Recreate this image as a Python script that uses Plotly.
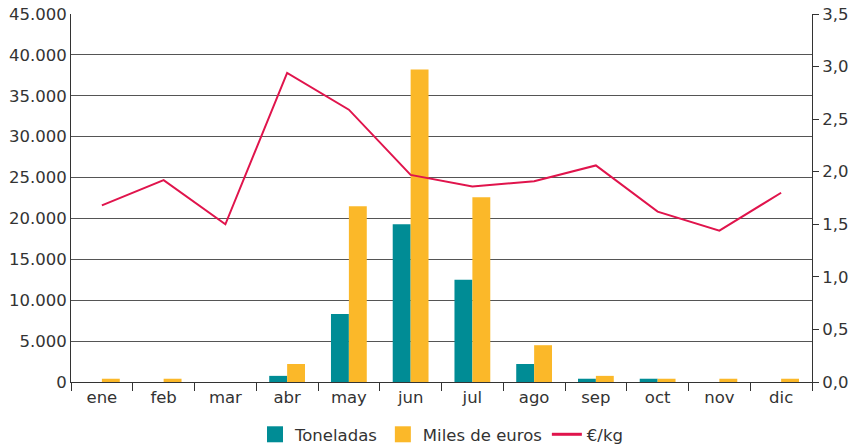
import plotly.graph_objects as go

meses = ["ene", "feb", "mar", "abr", "may", "jun", "jul", "ago", "sep", "oct", "nov", "dic"]
toneladas = [0, 0, 0, 750, 8300, 19300, 12500, 2200, 400, 400, 0, 0]
miles_euros = [400, 400, 0, 2200, 21500, 38200, 22600, 4500, 750, 400, 400, 400]
eur_kg = [1.68, 1.92, 1.50, 2.94, 2.59, 1.97, 1.86, 1.91, 2.06, 1.62, 1.44, 1.80]

TEAL = "#008C95"
YELLOW = "#FBB829"
RED = "#E0144C"
FONT = "DejaVu Sans, Liberation Sans, Arial, sans-serif"

fig = go.Figure()
fig.add_trace(go.Bar(x=meses, y=toneladas, name="Toneladas", marker_color=TEAL, marker_line_width=0,
                     showlegend=False, legendgroup="t"))
fig.add_trace(go.Bar(x=meses, y=miles_euros, name="Miles de euros", marker_color=YELLOW, marker_line_width=0,
                     showlegend=False, legendgroup="m"))
fig.add_trace(go.Scatter(x=meses, y=eur_kg, name="€/kg", mode="lines", line=dict(color=RED, width=2),
                         yaxis="y2", showlegend=False, legendgroup="e"))
# legend entries (larger square swatches, as in the reference)
fig.add_trace(go.Scatter(x=[None], y=[None], name="Toneladas", mode="markers", legendgroup="t",
                         marker=dict(symbol="square", size=19, color=TEAL, line_width=0)))
fig.add_trace(go.Scatter(x=[None], y=[None], name="Miles de euros", mode="markers", legendgroup="m",
                         marker=dict(symbol="square", size=19, color=YELLOW, line_width=0)))
fig.add_trace(go.Scatter(x=[None], y=[None], name="€/kg", mode="lines", legendgroup="e",
                         line=dict(color=RED, width=3)))

fig.update_layout(
    width=854, height=448,
    margin=dict(l=71, r=42, t=14, b=66, autoexpand=False),
    paper_bgcolor="white", plot_bgcolor="white",
    separators=",.",
    font=dict(family=FONT, size=16.5, color="#333333"),
    barmode="group", bargap=0.42, bargroupgap=0,
    showlegend=True,
    legend=dict(orientation="h", xref="paper", x=0.5, xanchor="center",
                yref="container", y=0.03, yanchor="middle",
                font=dict(size=16.5, color="#333333"), itemwidth=30, traceorder="normal"),
    xaxis=dict(showgrid=False, showline=True, linecolor="#333333", linewidth=1,
               ticks="outside", tickson="boundaries", ticklen=8, tickcolor="#333333",
               range=[-0.5, 11.5], automargin=False),
    yaxis=dict(range=[0, 45000], dtick=5000, tick0=0, showgrid=True, gridcolor="#555555", gridwidth=1,
               showline=True, linecolor="#333333", linewidth=1, separatethousands=True,
               tickformat=",d", ticks="", zeroline=False, automargin=False),
    yaxis2=dict(range=[0, 3.5], dtick=0.5, tick0=0, overlaying="y", side="right", showgrid=False,
                showline=True, linecolor="#333333", linewidth=1, tickformat=".1f",
                ticks="outside", ticklen=6, tickcolor="#333333", zeroline=False, automargin=False),
)

fig.write_html("out.html", config={"displayModeBar": False},
               post_script="document.body.style.margin='0';document.body.style.overflow='hidden';")
